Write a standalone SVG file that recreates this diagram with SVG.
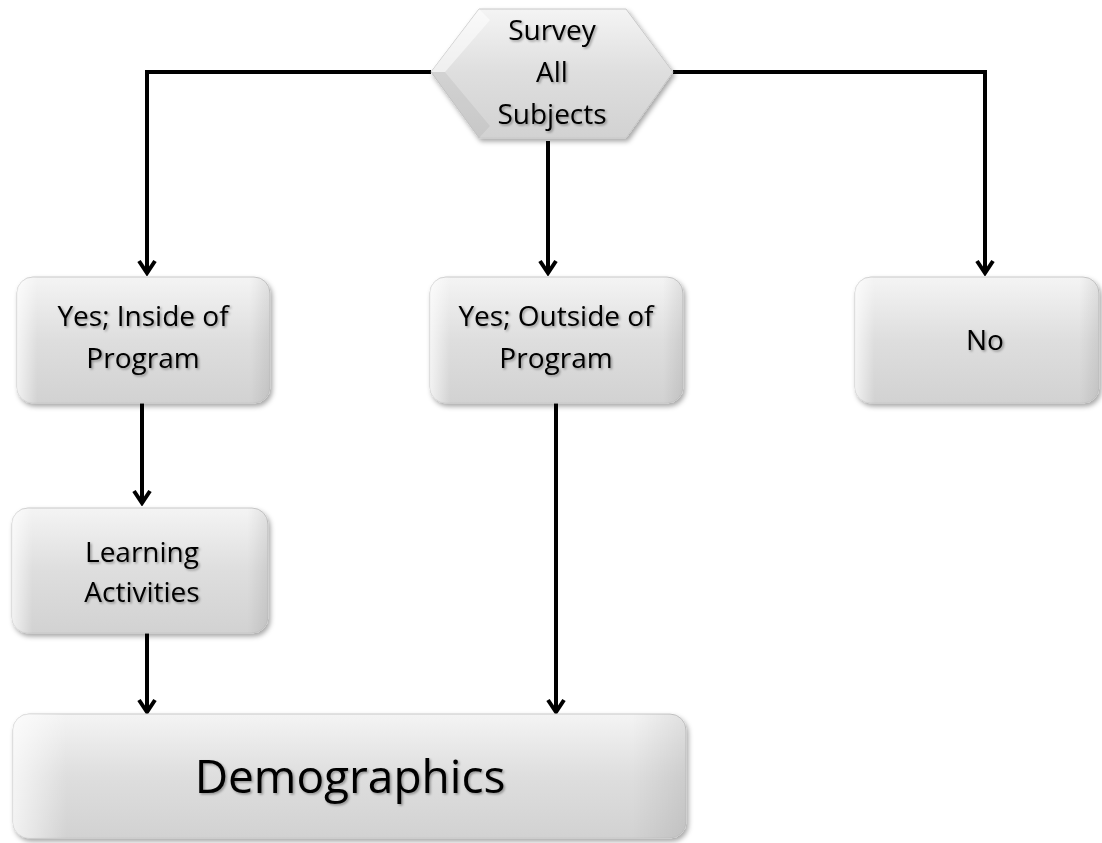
<svg xmlns="http://www.w3.org/2000/svg" width="1102" height="843" viewBox="0 0 1102 843">
<defs>
<linearGradient id="fill" x1="0" y1="0" x2="0" y2="1">
<stop offset="0" stop-color="#f4f4f4"/>
<stop offset="0.5" stop-color="#dedede"/>
<stop offset="1" stop-color="#d2d2d2"/>
</linearGradient>
<linearGradient id="bevelL" x1="0" y1="0" x2="1" y2="0">
<stop offset="0" stop-color="#ffffff" stop-opacity="0.7"/>
<stop offset="0.08" stop-color="#ffffff" stop-opacity="0"/>
<stop offset="0.92" stop-color="#000000" stop-opacity="0"/>
<stop offset="1" stop-color="#000000" stop-opacity="0.08"/>
</linearGradient>
<filter id="shadow" x="-10%" y="-10%" width="125%" height="130%">
<feDropShadow dx="2" dy="3" stdDeviation="2.5" flood-color="#000" flood-opacity="0.35"/>
</filter>
<filter id="tshadow" x="-10%" y="-20%" width="130%" height="150%">
<feDropShadow dx="1.5" dy="1.5" stdDeviation="1" flood-color="#000" flood-opacity="0.35"/>
</filter>
<marker id="arrow" viewBox="0 0 20 20" refX="17" refY="10" markerWidth="20" markerHeight="20" markerUnits="userSpaceOnUse" orient="auto">
<path d="M5,2 L17,10 L5,18" fill="none" stroke="#000" stroke-width="4" stroke-linejoin="miter"/>
</marker>
</defs>
<style>
.box{fill:url(#fill);stroke:#c8c8c8;stroke-width:1;filter:url(#shadow)}
.bev{fill:url(#bevelL);stroke:none}
.lbl{font-family:"Open Sans","Liberation Sans",sans-serif;font-size:28px;fill:#000;text-anchor:middle;filter:url(#tshadow)}
.big{font-size:46px}
.conn{fill:none;stroke:#000;stroke-width:4}
</style>
<rect width="1102" height="843" fill="#ffffff"/>
<g id="connectors">
<path class="conn" d="M431,72 H147 V273" marker-end="url(#arrow)"/>
<path class="conn" d="M673,72 H985 V273" marker-end="url(#arrow)"/>
<path class="conn" d="M548,141 V273" marker-end="url(#arrow)"/>
<path class="conn" d="M142,403 V503" marker-end="url(#arrow)"/>
<path class="conn" d="M147,633 V712" marker-end="url(#arrow)"/>
<path class="conn" d="M556,403 V712" marker-end="url(#arrow)"/>
</g>
<g id="survey">
<polygon class="box" points="431,72 479,9 626,9 673,72 626,138 479,138"/>
<polygon points="431,72 479,9 490,20 445,72" fill="#ffffff" opacity="0.5"/>
<polygon points="431,72 445,72 490,126 479,138" fill="#000" opacity="0.05"/>
<text class="lbl" x="552" y="40">Survey</text>
<text class="lbl" x="552" y="82">All</text>
<text class="lbl" x="552" y="124">Subjects</text>
</g>
<g id="inside">
<rect class="box" x="17" y="277" width="253" height="126" rx="16"/>
<rect class="bev" x="17" y="277" width="253" height="126" rx="16"/>
<text class="lbl" x="143" y="326">Yes; Inside of</text>
<text class="lbl" x="143" y="368">Program</text>
</g>
<g id="outside">
<rect class="box" x="430" y="277" width="253" height="126" rx="16"/>
<rect class="bev" x="430" y="277" width="253" height="126" rx="16"/>
<text class="lbl" x="556" y="326">Yes; Outside of</text>
<text class="lbl" x="556" y="368">Program</text>
</g>
<g id="no">
<rect class="box" x="855" y="277" width="244" height="126" rx="16"/>
<rect class="bev" x="855" y="277" width="244" height="126" rx="16"/>
<text class="lbl" x="985" y="350">No</text>
</g>
<g id="learning">
<rect class="box" x="12" y="508" width="256" height="125" rx="16"/>
<rect class="bev" x="12" y="508" width="256" height="125" rx="16"/>
<text class="lbl" x="142" y="562">Learning</text>
<text class="lbl" x="142" y="602">Activities</text>
</g>
<g id="demographics">
<rect class="box" x="13" y="714" width="673" height="124" rx="16"/>
<rect class="bev" x="13" y="714" width="673" height="124" rx="16"/>
<text class="lbl big" x="350" y="793">Demographics</text>
</g>
</svg>
